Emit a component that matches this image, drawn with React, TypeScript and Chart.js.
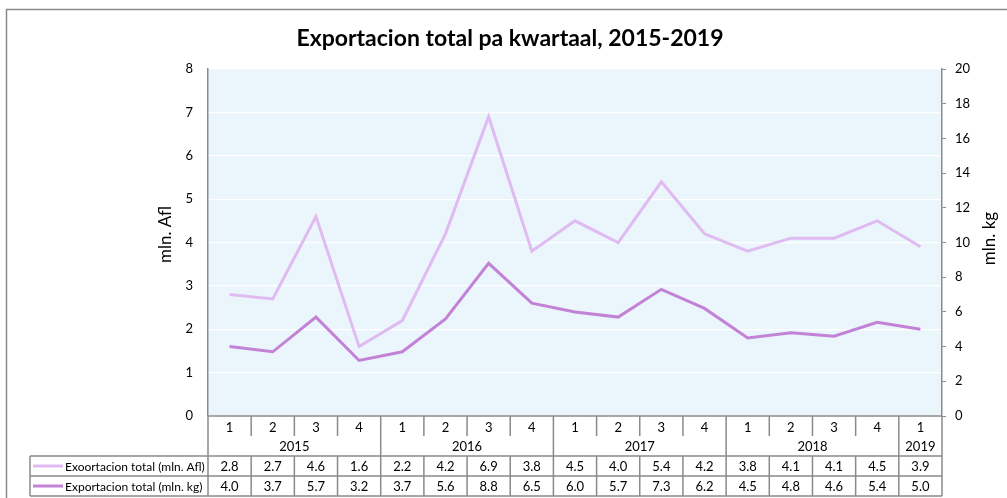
import React, { useEffect, useRef } from "react";
import { Chart, registerables } from "chart.js";

Chart.register(...registerables);

const chartTitle = "Exportacion total pa kwartaal, 2015-2019";
const quarterLabels = ["1", "2", "3", "4", "1", "2", "3", "4", "1", "2", "3", "4", "1", "2", "3", "4", "1"];
const yearLabels = ["2015", "2016", "2017", "2018", "2019"];
const yearSpans = [4, 4, 4, 4, 1];
const seriesLabels = ["Exoortacion total (mln. Afl)", "Exportacion total (mln. kg)"];
const aflValues = [2.8, 2.7, 4.6, 1.6, 2.2, 4.2, 6.9, 3.8, 4.5, 4.0, 5.4, 4.2, 3.8, 4.1, 4.1, 4.5, 3.9];
const kgValues = [4.0, 3.7, 5.7, 3.2, 3.7, 5.6, 8.8, 6.5, 6.0, 5.7, 7.3, 6.2, 4.5, 4.8, 4.6, 5.4, 5.0];
const leftAxisTitle = "mln. Afl";
const rightAxisTitle = "mln. kg";
const leftAxisMax = 8;
const leftAxisStep = 1;
const rightAxisMax = 20;
const rightAxisStep = 2;

const FONT = "Lato, 'Liberation Sans', sans-serif";
const GRAY = "#8a8a8a";
const COLORS = ["#dfbbf2", "#c283d6"];

const decorPlugin = {
  id: "decor",
  beforeDraw(chart: any) {
    const { ctx, chartArea } = chart;
    ctx.save();
    ctx.fillStyle = "#ffffff";
    ctx.fillRect(0, 0, chart.width, chart.height);
    ctx.fillStyle = "#ebf6fc";
    ctx.fillRect(chartArea.left, chartArea.top, chartArea.right - chartArea.left, chartArea.bottom - chartArea.top);
    // outer chart frame
    ctx.strokeStyle = GRAY;
    ctx.lineWidth = 1.5;
    ctx.beginPath();
    ctx.moveTo(6.5, chart.height);
    ctx.lineTo(6.5, 9.5);
    ctx.lineTo(chart.width, 9.5);
    ctx.stroke();
    ctx.restore();
  },
  afterDraw(chart: any) {
    const { ctx, chartArea } = chart;
    const xs = chart.scales.x;
    const { left, right, bottom, top } = chartArea;
    const n = quarterLabels.length;
    const edge = (i: number) =>
      i === 0 ? left : i === n ? right : (xs.getPixelForValue(i - 1) + xs.getPixelForValue(i)) / 2;

    const catBot = 436;
    const yearBot = 456;
    const row1Bot = 476;
    const row2Bot = 496;
    const legendLeft = 30;

    ctx.save();
    // title
    ctx.fillStyle = "#000";
    ctx.font = `bold 23px ${FONT}`;
    ctx.textAlign = "center";
    ctx.textBaseline = "middle";
    ctx.fillText(chartTitle, 510, 39);

    // axis titles
    ctx.font = `17px ${FONT}`;
    ctx.save();
    ctx.translate(166, (top + bottom) / 2 - 8);
    ctx.rotate(-Math.PI / 2);
    ctx.fillText(leftAxisTitle, 0, 0);
    ctx.restore();
    ctx.save();
    ctx.translate(990, (top + bottom) / 2 - 4);
    ctx.rotate(-Math.PI / 2);
    ctx.fillText(rightAxisTitle, 0, 0);
    ctx.restore();

    // table lines
    ctx.strokeStyle = GRAY;
    ctx.lineWidth = 1.5;
    const line = (x1: number, y1: number, x2: number, y2: number) => {
      ctx.beginPath();
      ctx.moveTo(x1, y1);
      ctx.lineTo(x2, y2);
      ctx.stroke();
    };
    line(left, bottom, right, bottom);
    const yearStarts = new Set<number>();
    let acc = 0;
    yearSpans.forEach((s) => {
      yearStarts.add(acc);
      acc += s;
    });
    for (let i = 1; i < n; i++) {
      const px = edge(i);
      if (yearStarts.has(i)) {
        line(px, bottom, px, row2Bot);
      } else {
        line(px, bottom, px, catBot);
        line(px, yearBot, px, row2Bot);
      }
    }
    line(left, bottom, left, row2Bot);
    line(right, bottom, right, row2Bot);
    line(legendLeft, yearBot, right, yearBot);
    line(legendLeft, row1Bot, right, row1Bot);
    line(legendLeft, row2Bot, right, row2Bot);
    line(legendLeft, yearBot, legendLeft, row2Bot);

    // table texts
    ctx.fillStyle = "#000";
    ctx.font = `13px ${FONT}`;
    ctx.textAlign = "center";
    for (let i = 0; i < n; i++) {
      const cx = (edge(i) + edge(i + 1)) / 2;
      ctx.fillText(quarterLabels[i], cx, (bottom + catBot) / 2 + 2);
      ctx.fillText(aflValues[i].toFixed(1), cx, (yearBot + row1Bot) / 2 + 1);
      ctx.fillText(kgValues[i].toFixed(1), cx, (row1Bot + row2Bot) / 2 + 1);
    }
    acc = 0;
    yearSpans.forEach((s, k) => {
      const cx = (edge(acc) + edge(acc + s)) / 2;
      ctx.fillText(yearLabels[k], cx, (catBot + yearBot) / 2 + 1);
      acc += s;
    });

    // legend keys
    const rows = [(yearBot + row1Bot) / 2, (row1Bot + row2Bot) / 2];
    ctx.font = `12px ${FONT}`;
    rows.forEach((ry, k) => {
      ctx.strokeStyle = COLORS[k];
      ctx.lineWidth = 3;
      line(33, ry, 63, ry);
      ctx.fillStyle = "#000";
      ctx.textAlign = "left";
      ctx.fillText(seriesLabels[k], 65, ry + 1);
    });
    ctx.restore();
  },
};

export default function App() {
  const ref = useRef<HTMLCanvasElement | null>(null);
  useEffect(() => {
    if (!ref.current) return;
    const chart = new Chart(ref.current, {
      type: "line",
      data: {
        labels: quarterLabels,
        datasets: [
          {
            label: seriesLabels[0],
            data: aflValues,
            yAxisID: "y",
            borderColor: COLORS[0],
            backgroundColor: COLORS[0],
            borderWidth: 3,
            pointRadius: 0,
            tension: 0,
          },
          {
            label: seriesLabels[1],
            data: kgValues,
            yAxisID: "y1",
            borderColor: COLORS[1],
            backgroundColor: COLORS[1],
            borderWidth: 3,
            pointRadius: 0,
            tension: 0,
          },
        ],
      },
      options: {
        responsive: false,
        animation: false,
        layout: { padding: { top: 69, bottom: 82, left: 0, right: 0 } },
        plugins: {
          legend: { display: false },
          title: { display: false },
          tooltip: { enabled: false },
        },
        scales: {
          x: {
            type: "category",
            display: false,
            offset: true,
          },
          y: {
            position: "left",
            min: 0,
            max: leftAxisMax,
            ticks: {
              stepSize: leftAxisStep,
              padding: 15,
              color: "#000",
              font: { family: FONT, size: 13 },
            },
            grid: { color: "#ffffff", lineWidth: 1.2, drawTicks: false },
            border: { display: true, color: GRAY, width: 1.5 },
            afterFit(scale: any) {
              scale.width = 208;
            },
          },
          y1: {
            position: "right",
            min: 0,
            max: rightAxisMax,
            ticks: {
              stepSize: rightAxisStep,
              padding: 9,
              color: "#000",
              font: { family: FONT, size: 13 },
            },
            grid: { drawOnChartArea: false, drawTicks: true, tickLength: 4, color: GRAY, lineWidth: 1 },
            border: { display: true, color: GRAY, width: 1.5 },
            afterFit(scale: any) {
              scale.width = 65;
            },
          },
        },
      },
      plugins: [decorPlugin],
    } as any);
    return () => chart.destroy();
  }, []);
  return (
    <div style={{ position: "fixed", left: 0, top: 0, width: 1007, height: 498 }}>
      <canvas ref={ref} width={1007} height={498} style={{ display: "block" }} />
    </div>
  );
}
